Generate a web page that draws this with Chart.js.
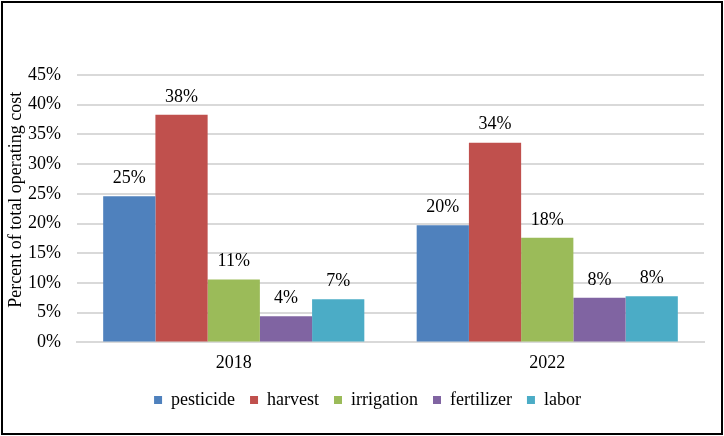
<!DOCTYPE html>
<html>
<head>
<meta charset="utf-8">
<script src="https://cdn.jsdelivr.net/npm/chart.js@4.4.0/dist/chart.umd.min.js"></script>
<style>
  body { margin: 0; background: #ffffff; }
  #chartBox {
    position: absolute;
    left: 1px;
    top: 1px;
    width: 722px;
    height: 434px;
    border: 2px solid #000000;
    box-sizing: border-box;
    background: #ffffff;
  }
  #costChart { display: block; }
</style>
</head>
<body>
<div id="chartBox">
  <canvas id="costChart" width="718" height="430"></canvas>
</div>
<script>
const years = ["2018", "2022"];
const pesticide = [24.6, 19.7];
const harvest = [38.3, 33.6];
const irrigation = [10.6, 17.6];
const fertilizer = [4.4, 7.5];
const labor = [7.25, 7.75];
const yTicks = [0, 5, 10, 15, 20, 25, 30, 35, 40, 45];

const serif = "'Liberation Serif', 'Times New Roman', serif";
const gridGray = "#D9D9D9";

// labels above each bar
const barLabels = {
  id: "barLabels",
  afterDatasetsDraw(chart) {
    const ctx = chart.ctx;
    ctx.save();
    ctx.font = "18px " + serif;
    ctx.fillStyle = "#000000";
    ctx.textAlign = "center";
    ctx.textBaseline = "middle";
    chart.data.datasets.forEach((ds, i) => {
      chart.getDatasetMeta(i).data.forEach((bar, j) => {
        ctx.fillText(Math.round(ds.data[j]) + "%", bar.x, bar.y - 18);
      });
    });
    ctx.restore();
  },
};

// nudge the legend a bit to the right, like the original
const legendShift = {
  id: "legendShift",
  beforeDraw(chart) {
    if (chart.legend && !chart.legend._shifted) {
      chart.legend.left += 14;
      chart.legend.right += 14;
      chart.legend._shifted = true;
    }
  },
};

function makeDataset(label, values, color) {
  return {
    label: label,
    data: values,
    backgroundColor: color,
    borderWidth: 0,
    categoryPercentage: 0.833,
    barPercentage: 1.0,
  };
}

function createChart() {
  const ctx = document.getElementById("costChart").getContext("2d");
  new Chart(ctx, {
    type: "bar",
    data: {
      labels: years,
      datasets: [
        makeDataset("pesticide", pesticide, "#4F81BD"),
        makeDataset("harvest", harvest, "#C0504D"),
        makeDataset("irrigation", irrigation, "#9BBB59"),
        makeDataset("fertilizer", fertilizer, "#8064A2"),
        makeDataset("labor", labor, "#4BACC6"),
      ],
    },
    options: {
      responsive: false,
      animation: false,
      layout: {
        padding: { top: 72, right: 17, bottom: 14, left: 0 },
      },
      plugins: {
        tooltip: { enabled: false },
        legend: {
          position: "bottom",
          labels: {
            font: { family: serif, size: 18 },
            color: "#000000",
            boxWidth: 8,
            boxHeight: 8,
            padding: 15,
          },
        },
      },
      scales: {
        x: {
          grid: { display: false, drawTicks: false },
          border: { display: true, color: gridGray, width: 2 },
          ticks: {
            font: { family: serif, size: 18 },
            color: "#000000",
            padding: 10,
          },
          afterFit(scale) {
            scale.height -= 8;
          },
        },
        y: {
          min: 0,
          max: 45,
          afterBuildTicks(scale) {
            scale.ticks = yTicks.map((v) => ({ value: v }));
          },
          afterFit(scale) {
            scale.width = 74;
          },
          grid: { color: gridGray, lineWidth: 2, drawTicks: false },
          border: { display: false },
          ticks: {
            font: { family: serif, size: 18 },
            color: "#000000",
            padding: 16,
            callback: (v) => v + "%",
          },
          title: {
            display: true,
            // leading spaces lift the title a little, as in the original
            text: "    Percent of total operating cost",
            font: { family: serif, size: 18 },
            color: "#000000",
            padding: { top: 2, bottom: 0 },
          },
        },
      },
    },
    plugins: [barLabels, legendShift],
  });
}

document.addEventListener("DOMContentLoaded", function () {
  createChart();
});
</script>
</body>
</html>
